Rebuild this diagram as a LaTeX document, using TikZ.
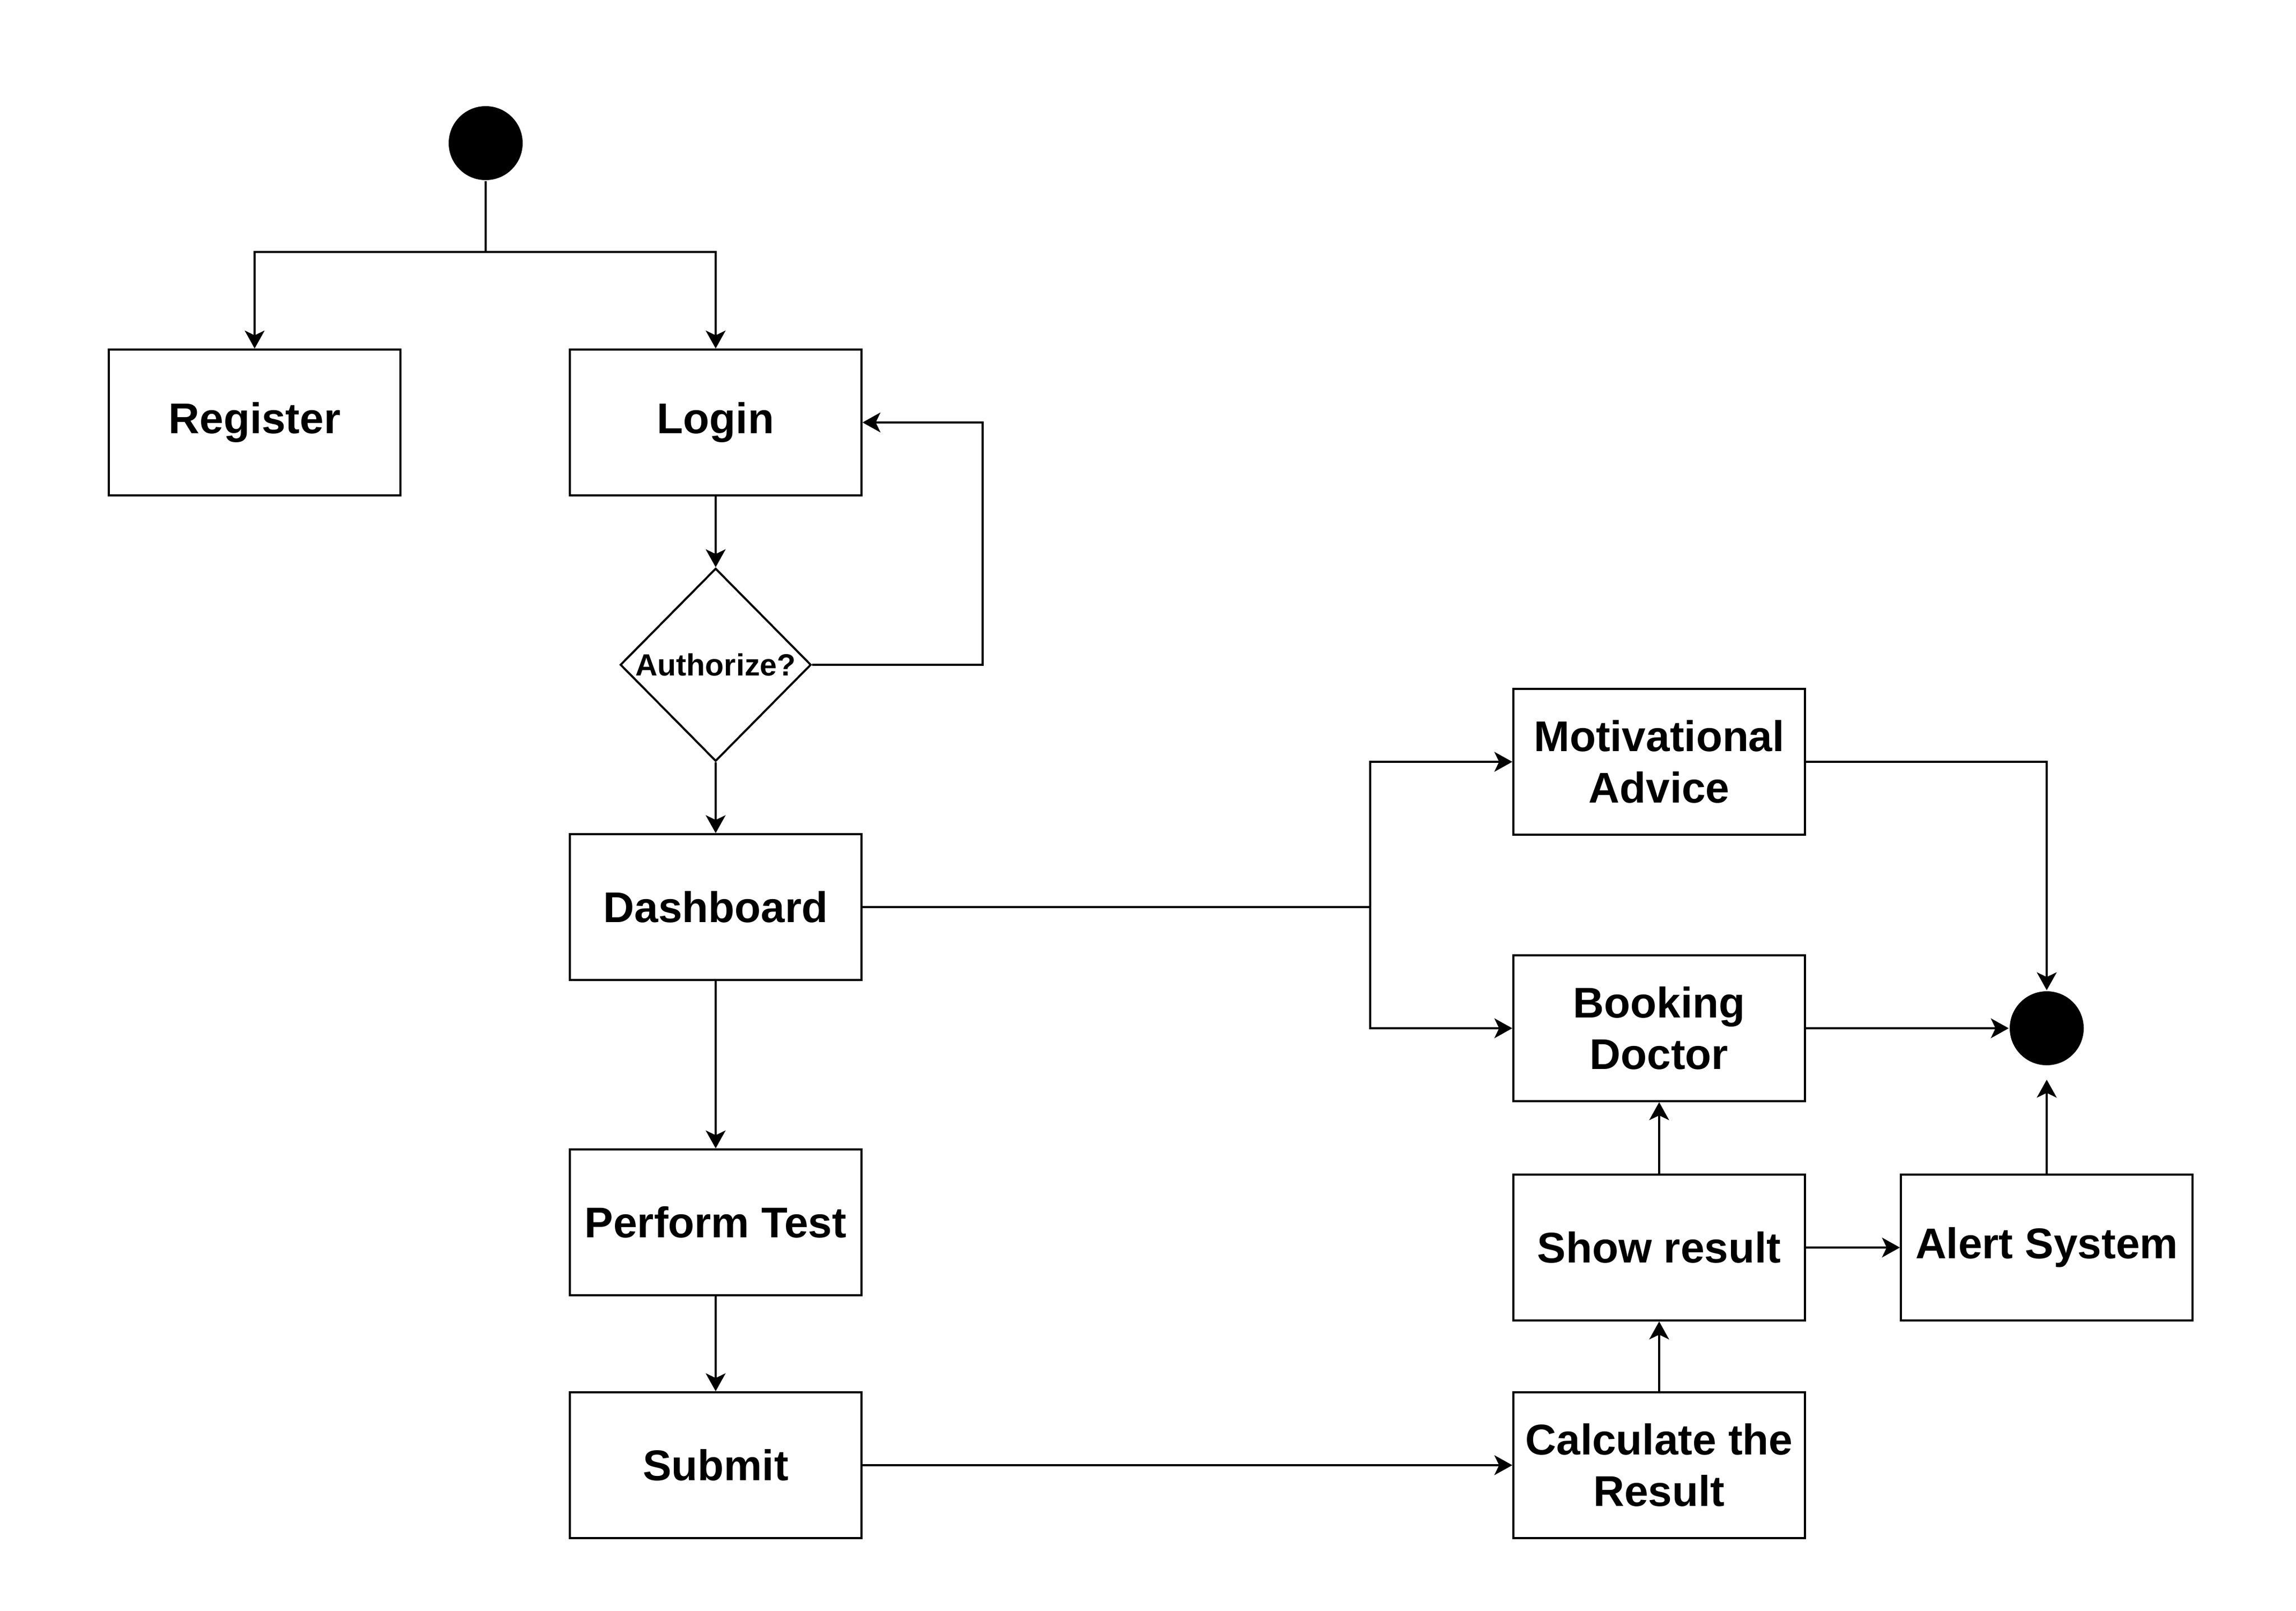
\documentclass[tikz,border=0pt]{standalone}
\usepackage{fontspec}
\setmainfont{Liberation Sans}
\usetikzlibrary{positioning,calc,shapes.geometric,arrows.meta}

\begin{document}
\begin{tikzpicture}[on grid,line width=1.1pt,
  box/.style={draw,rectangle,inner sep=2pt,minimum width=5.44cm,minimum height=2.72cm,align=center,
    font=\fontsize{22.8}{27.3}\selectfont\bfseries},
  decide/.style={draw,diamond,aspect=1,inner sep=0pt,minimum width=3.56cm,minimum height=3.6cm,
    font=\fontsize{16.3}{20}\selectfont\bfseries},
  dot/.style={circle,fill=black,minimum size=1.38cm,inner sep=0pt}]
\tikzset{>={Stealth[length=9.5pt,width=10.5pt,inset=2.5pt]}}
\useasboundingbox (0,0) rectangle (42.83,-30.05);
\begin{scope}
  \node[dot] (start) at (9.06,-2.67) {};
  \node[box] (reg) at (4.75,-7.88) {Register};
  \node[box] (login) [right=8.6cm of reg] {Login};
  \node[decide] (auth) [below=4.52cm of login] {Authorize?};
  \node[box] (dash) [below=4.52cm of auth] {Dashboard};
  \node[box] (test) [below=5.88cm of dash] {Perform Test};
  \node[box] (submit) [below=4.53cm of test] {Submit};
  \node[box] (calc) [right=17.6cm of submit] {Calculate the\\Result};
  \node[box] (show) [above=4.06cm of calc] {Show result};
  \node[box] (book) [above=4.09cm of show] {Booking\\Doctor};
  \node[box] (motiv) [above=4.97cm of book] {Motivational\\Advice};
  \node[box] (alert) [right=7.23cm of show] {Alert System};
  \node[dot] (end) [above=4.09cm of alert] {};
\end{scope}
  \coordinate (fork) at (9.06,-4.70);
  \coordinate (back) at (18.33,-12.40);
  \coordinate (split) at (25.56,-16.92);
  % start splits to register and login
  \draw (start) -- (fork);
  \draw[->] (fork) -| (reg);
  \draw[->] (fork) -| (login);
  \path[->] (login) edge (auth);
  \draw[->] (auth) -- (back) |- (login);
  \path[->] (auth) edge (dash);
  \path[->] (dash) edge (test);
  \path[->] (test) edge (submit);
  \path[->] (submit) edge (calc);
  % dashboard branches
  \draw (dash) -- (split);
  \draw[->] (split) |- (motiv);
  \draw[->] (split) |- (book);
  \draw[->] (motiv) -| (end);
  \path[->] (book) edge (end);
  \path[->] (calc) edge (show);
  \path[->] (show) edge (book);
  \path[->] (show) edge (alert);
  \path[->] (alert) edge [shorten >=0.25cm] (end);
\end{tikzpicture}
\end{document}
